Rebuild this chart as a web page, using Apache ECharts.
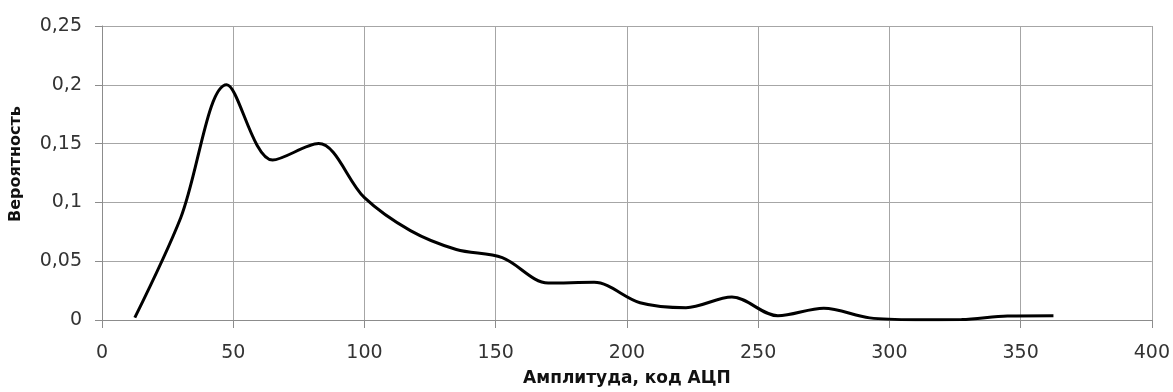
<!DOCTYPE html>
<html>
<head>
<meta charset="utf-8">
<script src="https://cdn.jsdelivr.net/npm/echarts@6/dist/echarts.min.js"></script>
<style>html,body{margin:0;padding:0;background:#fff}#c{width:1173px;height:392px}</style>
</head>
<body>
<div id="c"></div>
<script>
var amplitude = [12.5, 30, 47.5, 65, 82.5, 100, 117.5, 135, 152.5, 170, 187.5, 205, 222.5, 240, 257.5, 275, 292.5, 310, 327.5, 345, 362.5];
var probability = [0.002, 0.087, 0.2, 0.136, 0.15, 0.104, 0.076, 0.06, 0.053, 0.0315, 0.032, 0.0147, 0.0105, 0.0195, 0.0036, 0.0100, 0.0018, 0.0003, 0.0004, 0.0035, 0.0037];
var xTitle = 'Амплитуда, код АЦП';
var yTitle = 'Вероятность';

var points = amplitude.map(function (x, i) { return [x, probability[i]]; });
var fontFam = 'DejaVu Sans';
var chart = echarts.init(document.getElementById('c'), null, {renderer: 'canvas'});
chart.setOption({
  animation: false,
  grid: {left: 102, right: 18, top: 26, bottom: 68, containLabel: false},
  xAxis: {
    type: 'value', min: 0, max: 400, interval: 50,
    name: xTitle, nameLocation: 'middle', nameGap: 50,
    nameTextStyle: {fontFamily: fontFam, fontSize: 17, fontWeight: 'bold', color: '#111'},
    axisLine: {show: true, lineStyle: {color: '#8c8c8c', width: 1}},
    axisTick: {show: true, length: 8, lineStyle: {color: '#8c8c8c'}},
    axisLabel: {fontFamily: fontFam, fontSize: 19, color: '#333', margin: 24},
    splitLine: {show: true, lineStyle: {color: '#a6a6a6', width: 1}}
  },
  yAxis: {
    type: 'value', min: 0, max: 0.25, interval: 0.05,
    name: yTitle, nameLocation: 'middle', nameGap: 78, nameRotate: 90,
    nameTextStyle: {fontFamily: fontFam, fontSize: 16, fontWeight: 'bold', color: '#111', padding: [0, 0, 0, 18]},
    axisLine: {show: true, lineStyle: {color: '#8c8c8c', width: 1}},
    axisTick: {show: true, length: 7, lineStyle: {color: '#8c8c8c'}},
    axisLabel: {fontFamily: fontFam, fontSize: 19, color: '#333', margin: 20,
      formatter: function (v) { return (Math.round(v * 100) / 100).toString().replace('.', ','); }},
    splitLine: {show: true, lineStyle: {color: '#a6a6a6', width: 1}}
  },
  series: [{
    type: 'line', data: points, smooth: 0.33, symbol: 'none',
    lineStyle: {color: '#000', width: 3}
  }]
});
</script>
</body>
</html>
